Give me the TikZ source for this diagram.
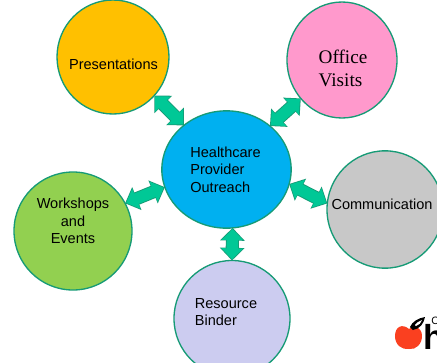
\documentclass[tikz,border=0pt]{standalone}
\usepackage{fontspec}
\setmainfont{Liberation Sans}
\newfontfamily\timesf{Liberation Serif}
\usetikzlibrary{shapes.geometric,arrows.meta}
\definecolor{edgeg}{HTML}{169B76}
\definecolor{arrowg}{HTML}{00C896}
\definecolor{cyellow}{HTML}{FFC000}
\definecolor{cpink}{HTML}{FF99CC}
\definecolor{cgray}{HTML}{C8C8C8}
\definecolor{cgreen}{HTML}{92D050}
\definecolor{clav}{HTML}{CCCCF0}
\definecolor{cblue}{HTML}{00B0F0}
\definecolor{applered}{HTML}{FA4020}
\tikzset{
  bubble/.style={ellipse,draw=edgeg,line width=1pt,inner sep=0pt,outer sep=0pt},
  lab/.style={inner sep=0pt,font=\fontsize{10.9}{13.1}\selectfont,text=black},
  linkback/.style={edgeg,line width=9.8pt,{Triangle[length=9.5pt,width=18pt]}-{Triangle[length=9.5pt,width=18pt]}},
  linkfront/.style={arrowg,line width=8.4pt,shorten <=0.9pt,shorten >=0.9pt,{Triangle[length=8.2pt,width=15.7pt]}-{Triangle[length=8.2pt,width=15.7pt]}}
}
\newcommand{\biglink}[2]{\draw[linkback] (#1) -- (#2); \draw[linkfront] (#1) -- (#2);}
\begin{document}
\begin{tikzpicture}[x=0.75pt,y=-0.75pt]
\useasboundingbox (0,0) rectangle (437,362);
\clip (0,0) rectangle (437,362);
\fill[white] (0,0) rectangle (437,362);
\node[bubble,fill=cyellow,minimum width=84pt,minimum height=85.5pt] (pres) at (113,57) {};
\node[bubble,fill=cpink,minimum width=82.5pt,minimum height=87pt] (off) at (342,60) {};
\node[bubble,fill=cgray,minimum width=87pt,minimum height=88pt] (com) at (385,209.5) {};
\node[bubble,fill=cgreen,minimum width=88.5pt,minimum height=88.5pt] (work) at (73,231) {};
\node[bubble,fill=clav,minimum width=87pt,minimum height=87pt] (res) at (232,318.5) {};
\node[bubble,fill=cblue,minimum width=97pt,minimum height=88pt] (ctr) at (226.5,169.5) {};
\biglink{pres.-43}{ctr.134}
\biglink{off.223}{ctr.45}
\biglink{com.174}{ctr.-13}
\biglink{work.28}{ctr.196}
\biglink{res.90}{ctr.-84}
\node[lab] (tpres) at (113.5,64) {Presentations};
\node[lab,align=left,font=\timesf\fontsize{14.4}{17.3}\selectfont] (toff) at (343,68.5) {Office\\Visits};
\node[lab] (tcom) at (382,204) {Communication};
\node[lab,align=center] (twork) at (73,221) {Workshops\\and\\Events};
\node[lab,align=left] (tres) at (226,312) {Resource\\Binder};
\node[lab,align=left] (tctr) at (225.5,169.5) {Healthcare\\Provider\\Outreach};
% logo
\fill[applered] (409,329) .. controls (402,323) and (395,327) .. (395,336)
  .. controls (395,345) and (402,350) .. (409,349)
  .. controls (416,350) and (422,344) .. (422,336)
  .. controls (422,328) and (415,324) .. (409,329) -- cycle;
\fill[black] (410,327) .. controls (412,322) and (418,318) .. (425,317)
  .. controls (424,323) and (420,329) .. (413,330) -- cycle;
\fill[white] (415,325) .. controls (416,323) and (419,321) .. (422,320)
  .. controls (421,323) and (419,325) .. (416,326) -- cycle;
\node[inner sep=0pt,anchor=base west,font=\bfseries\fontsize{26}{26}\selectfont] (logoh) at (423,349.5) {h};
\node[inner sep=0pt,anchor=base west,font=\fontsize{8}{8}\selectfont] (logoc) at (431,324.5) {C};
\end{tikzpicture}
\end{document}
